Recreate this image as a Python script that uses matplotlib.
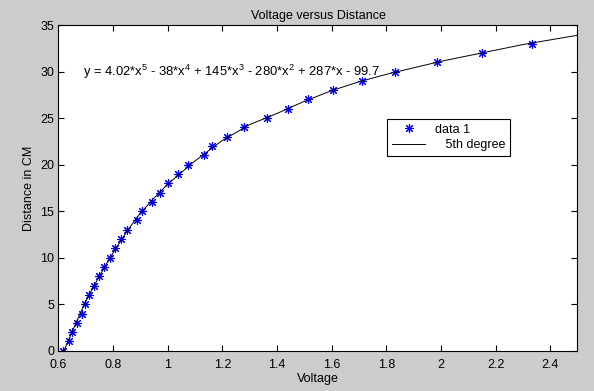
import matplotlib
matplotlib.use("Agg")
import matplotlib.pyplot as plt

# measured points: voltage reading for each distance step (cm)
distance_cm = list(range(0, 34))
voltage = [0.618, 0.639, 0.651, 0.669, 0.687, 0.697, 0.713, 0.731, 0.750, 0.768,
           0.790, 0.808, 0.828, 0.851, 0.886, 0.907, 0.941, 0.973, 1.002, 1.039,
           1.075, 1.132, 1.163, 1.218, 1.279, 1.363, 1.439, 1.513, 1.606, 1.712,
           1.832, 1.984, 2.149, 2.332]

# 5th degree fit curve
fit_v = [0.60, 0.62, 0.65, 0.675, 0.70, 0.725, 0.75, 0.775, 0.80, 0.85, 0.90, 0.95,
         1.00, 1.10, 1.20, 1.30, 1.40, 1.50, 1.60, 1.70, 1.80, 1.90, 2.00,
         2.10, 2.20, 2.30, 2.40, 2.50]
fit_d = [-1.6, 0.0, 2.0, 3.7, 5.3, 6.7, 8.0, 9.3, 10.5, 12.8, 14.8, 16.4,
         17.9, 20.4, 22.6, 24.3, 25.5, 26.8, 27.95, 28.9, 29.7, 30.4, 31.1,
         31.7, 32.3, 32.9, 33.4, 33.9]

xticks = [0.6, 0.8, 1, 1.2, 1.4, 1.6, 1.8, 2, 2.2, 2.4]
yticks = [0, 5, 10, 15, 20, 25, 30, 35]
equation = r"y = 4.02*x$^5$ - 38*x$^4$ + 145*x$^3$ - 280*x$^2$ + 287*x - 99.7"

fs = 9
plt.rcParams['font.family'] = ['Liberation Sans', 'DejaVu Sans']
plt.rcParams['font.size'] = fs
plt.rcParams['mathtext.fontset'] = 'custom'
plt.rcParams['mathtext.rm'] = 'Liberation Sans'

fig = plt.figure(figsize=(5.94, 3.91), dpi=100, facecolor='#cccccc')
ax = fig.add_axes([0.0983, 0.1028, 0.8739, 0.8332])
ax.set_facecolor('white')

ax.plot(voltage, distance_cm, linestyle='none', marker=(8, 2, 0), markersize=6.5,
        markeredgewidth=0.8, color='#0000ff', label='data 1')
ax.plot(fit_v, fit_d, color='black', linewidth=0.7, label='   5th degree')

ax.set_xlim(0.6, 2.5)
ax.set_ylim(0, 35)
ax.set_xticks(xticks)
ax.set_xticklabels([str(t) for t in xticks])
ax.set_yticks(yticks)
ax.tick_params(axis='x', direction='in', top=True, length=4, width=0.8,
               labelsize=fs, pad=6)
ax.tick_params(axis='y', direction='in', right=True, length=4, width=0.8,
               labelsize=fs, pad=3)
for s in ax.spines.values():
    s.set_linewidth(0.8)

ax.text(0.69, 30, equation, va='center', ha='left', fontsize=9.4)

ax.set_title('Voltage versus Distance', fontsize=fs, pad=4)
ax.set_xlabel('Voltage', fontsize=fs, labelpad=1)
ax.set_ylabel('Distance in CM', fontsize=fs, labelpad=4)

leg = ax.legend(loc='upper left', bbox_to_anchor=(0.634, 0.712), fancybox=False,
                framealpha=1, edgecolor='black', fontsize=fs, borderpad=0.4,
                handlelength=2.6, labelspacing=0.25, borderaxespad=0)
leg.get_frame().set_linewidth(0.8)

fig.savefig('out.png', dpi=100, facecolor=fig.get_facecolor())
